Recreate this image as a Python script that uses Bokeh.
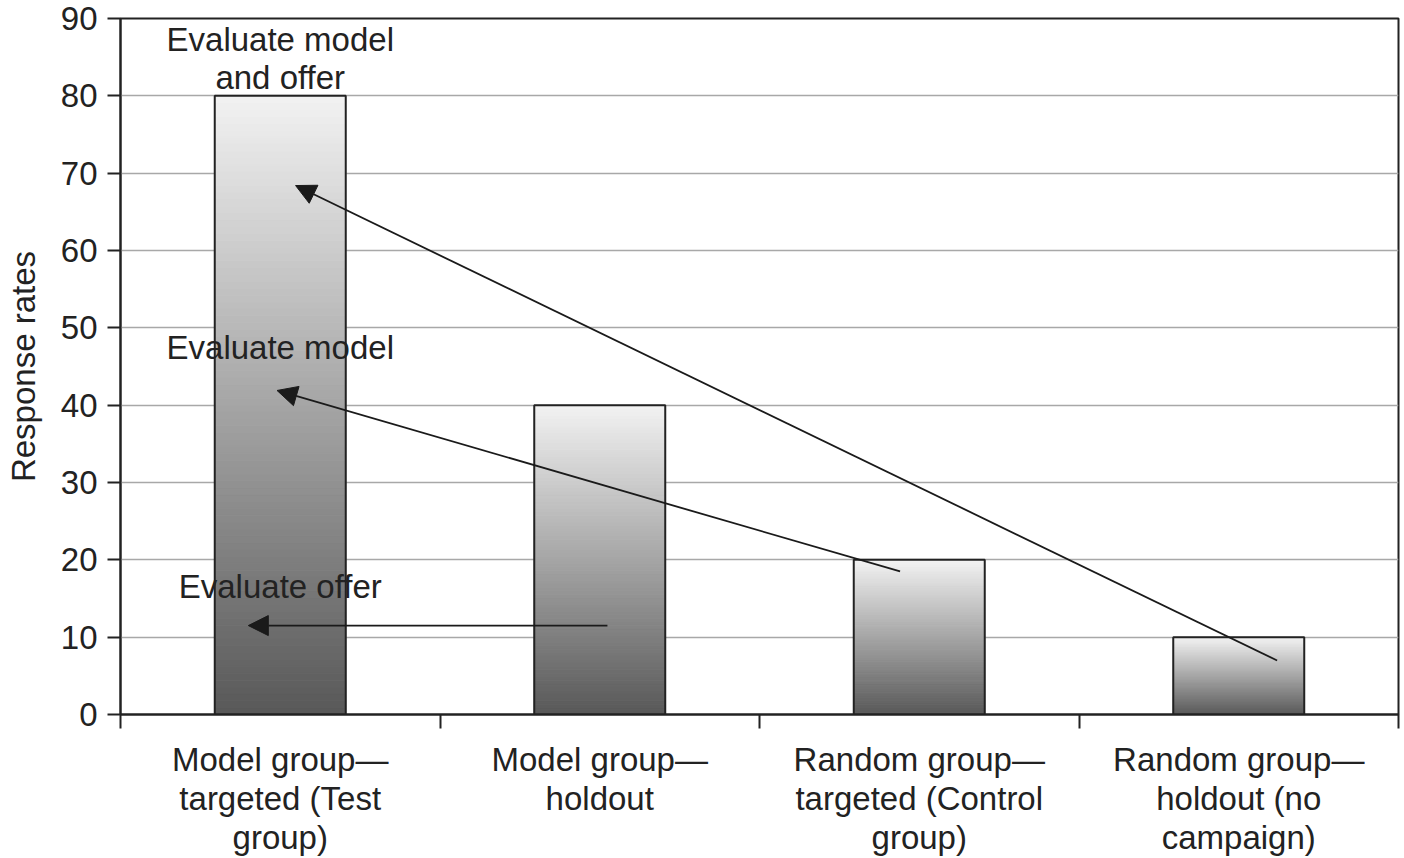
import numpy as np
from bokeh.plotting import figure
from bokeh.models import Range1d, FixedTicker, Arrow, NormalHead, ColumnDataSource
from bokeh.core.properties import value
from bokeh.embed import file_html
from bokeh.resources import INLINE

# ---- data ----
categories = [
    "Model group—\ntargeted (Test\ngroup)",
    "Model group—\nholdout",
    "Random group—\ntargeted (Control\ngroup)",
    "Random group—\nholdout (no\ncampaign)",
]
response_rates = [80, 40, 20, 10]
y_ticks = [0, 10, 20, 30, 40, 50, 60, 70, 80, 90]

annotation_texts = ["Evaluate model\nand offer", "Evaluate model", "Evaluate offer"]
annotation_x = [0.5, 0.5, 0.5]
annotation_y = [84.8, 47.4, 16.6]

arrow_x_start = [3.62, 2.44, 1.524]
arrow_y_start = [6.98, 18.5, 11.5]
arrow_x_end = [0.548, 0.49, 0.40]
arrow_y_end = [68.4, 41.9, 11.5]

FONT = "Liberation Sans"
TXT = "#222222"

centers = [i + 0.5 for i in range(len(categories))]
boundaries = [float(i) for i in range(len(categories) + 1)]

p = figure(width=1400, height=858, output_backend="svg", toolbar_location=None,
           x_range=Range1d(0, len(categories)), y_range=Range1d(0, 90),
           min_border_left=120, min_border_right=2, min_border_top=18, min_border_bottom=144)

p.outline_line_color = "#222222"
p.outline_line_width = 2
p.background_fill_color = "white"
p.border_fill_color = "white"

# x axis: labels at centers, ticks at category boundaries (minor ticks)
p.xaxis.ticker = FixedTicker(ticks=centers, minor_ticks=boundaries)
p.xaxis.major_label_overrides = {c: lab for c, lab in zip(centers, categories)}
p.xaxis.major_tick_out = 0
p.xaxis.major_tick_in = 0
p.xaxis.minor_tick_out = 14
p.xaxis.minor_tick_in = 0
p.xaxis.minor_tick_line_color = "#222222"
p.xaxis.minor_tick_line_width = 2
p.xaxis.axis_line_color = "#222222"
p.xaxis.axis_line_width = 2
p.xaxis.major_label_text_font = FONT
p.xaxis.major_label_text_font_size = "33px"
p.xaxis.major_label_text_color = TXT
p.xaxis.major_label_standoff = 12
p.xaxis.major_label_text_line_height = 1.06
p.xgrid.visible = False

# y axis
p.yaxis.ticker = FixedTicker(ticks=y_ticks)
p.yaxis.minor_tick_line_color = None
p.yaxis.major_tick_out = 13
p.yaxis.major_tick_in = 0
p.yaxis.major_tick_line_color = "#222222"
p.yaxis.major_tick_line_width = 2
p.yaxis.axis_line_color = "#222222"
p.yaxis.axis_line_width = 2
p.yaxis.major_label_text_font = FONT
p.yaxis.major_label_text_font_size = "33px"
p.yaxis.major_label_text_color = TXT
p.yaxis.major_label_standoff = 10
p.yaxis.axis_label = "Response rates"
p.yaxis.axis_label_text_font = FONT
p.yaxis.axis_label_text_font_size = "33px"
p.yaxis.axis_label_text_font_style = "normal"
p.yaxis.axis_label_text_color = TXT
p.yaxis.axis_label_standoff = 16
p.ygrid.grid_line_color = "#a8a8a8"
p.ygrid.grid_line_width = 1.5

# gradient bars (light top -> dark bottom)
n_steps = 90
dark = np.array([0x58, 0x58, 0x58], dtype=float)
light = np.array([0xf2, 0xf2, 0xf2], dtype=float)
bar_width = 0.41
L, R, B, T, C = [], [], [], [], []
for xc, v in zip(centers, response_rates):
    for k in range(n_steps):
        t = (k + 0.5) / n_steps
        col = dark + (light - dark) * t
        L.append(xc - bar_width / 2)
        R.append(xc + bar_width / 2)
        B.append(v * k / n_steps)
        T.append(v * (k + 1) / n_steps)
        C.append("#%02x%02x%02x" % tuple(int(round(c)) for c in col))
grad = ColumnDataSource(dict(left=L, right=R, bottom=B, top=T, color=C))
p.quad(left="left", right="right", bottom="bottom", top="top", source=grad,
       fill_color="color", line_color="color", line_width=1)
p.vbar(x=centers, top=response_rates, width=bar_width, fill_color=None,
       line_color="#222222", line_width=2)

# annotation texts
p.text(x=annotation_x, y=annotation_y, text=annotation_texts,
       text_font=value(FONT), text_font_size="33px", text_color=TXT,
       text_align="center", text_baseline="middle", text_line_height=1.03)

# arrows
for xs, ys, xe, ye in zip(arrow_x_start, arrow_y_start, arrow_x_end, arrow_y_end):
    p.add_layout(Arrow(x_start=xs, y_start=ys, x_end=xe, y_end=ye,
                       line_color="#1a1a1a", line_width=1.8,
                       end=NormalHead(size=20, fill_color="#1a1a1a",
                                      line_color="#1a1a1a", line_width=1)))

open("out.html", "w").write(file_html(p, INLINE))
